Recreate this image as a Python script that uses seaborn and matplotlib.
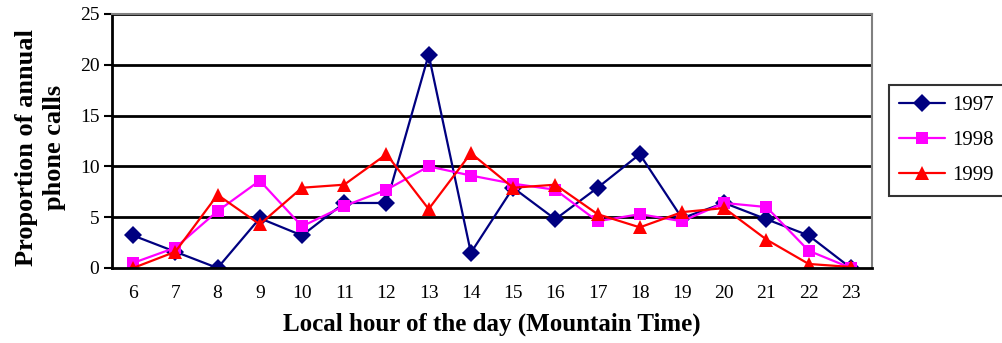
import numpy as np
import pandas as pd
import matplotlib
matplotlib.use("Agg")
import matplotlib.pyplot as plt
import seaborn as sns

hours = [6, 7, 8, 9, 10, 11, 12, 13, 14, 15, 16, 17, 18, 19, 20, 21, 22, 23]
calls_1997 = [3.2, 1.6, 0.0, 4.9, 3.2, 6.4, 6.4, 21.0, 1.5, 7.9, 4.8, 7.9, 11.2, 4.9, 6.4, 4.8, 3.2, 0.0]
calls_1998 = [0.5, 2.0, 5.6, 8.6, 4.1, 6.1, 7.7, 10.0, 9.1, 8.3, 7.7, 4.6, 5.3, 4.6, 6.4, 6.0, 1.7, 0.0]
calls_1999 = [0.0, 1.6, 7.2, 4.3, 7.9, 8.2, 11.2, 5.8, 11.3, 7.9, 8.2, 5.3, 4.0, 5.5, 5.9, 2.8, 0.4, 0.1]
years = ["1997", "1998", "1999"]
y_ticks = [0, 5, 10, 15, 20, 25]

frames = []
for year, vals in zip(years, [calls_1997, calls_1998, calls_1999]):
    frames.append(pd.DataFrame({"pos": np.arange(len(hours)), "hour": hours,
                                "share": vals, "year": year}))
df = pd.concat(frames, ignore_index=True)

sns.set_style("white")
plt.rcParams["font.family"] = ["Liberation Serif", "DejaVu Serif"]
plt.rcParams["text.color"] = "black"
plt.rcParams["axes.labelcolor"] = "black"
plt.rcParams["xtick.color"] = "black"
plt.rcParams["ytick.color"] = "black"

fig = plt.figure(figsize=(10.02, 3.43), dpi=100)
ax = fig.add_axes([112 / 1002, 1 - 268 / 343, 760 / 1002, 254 / 343])

palette = {"1997": "#000080", "1998": "#FF00FF", "1999": "#FF0000"}
markers = {"1997": "D", "1998": "s", "1999": "^"}
sns.lineplot(data=df, x="pos", y="share", hue="year", style="year",
             palette=palette, markers=markers, dashes=False,
             markersize=9, linewidth=1.6, markeredgewidth=0,
             ax=ax, legend=True)

# Triangles read a little larger than the other markers
for line in ax.get_lines():
    if line.get_marker() == "^":
        line.set_markersize(10.5)

# Horizontal gridlines
for t in y_ticks[1:]:
    ax.axhline(t, color="black", linewidth=2.0, zorder=0)

ax.set_xlim(-0.5, len(hours) - 0.5)
ax.set_ylim(0, 25)
ax.set_yticks(y_ticks)
ax.set_yticklabels([str(t) for t in y_ticks], fontsize=14)

# Category labels centred, tick marks between categories
ax.set_xticks(np.arange(len(hours)))
ax.set_xticklabels([str(h) for h in hours], fontsize=14)
ax.tick_params(axis="x", length=0, pad=12)
ax.set_xticks(np.arange(-0.5, len(hours)), minor=True)
ax.tick_params(axis="x", which="minor", length=6, width=1.5, color="black",
               direction="out")
ax.tick_params(axis="y", length=6, width=1.5, color="black", direction="out",
               left=True, pad=3)

for side in ["left", "bottom"]:
    ax.spines[side].set_color("black")
    ax.spines[side].set_linewidth(2.0)
for side in ["top", "right"]:
    ax.spines[side].set_visible(True)
    ax.spines[side].set_color("#808080")
    ax.spines[side].set_linewidth(1.5)

ax.set_xlabel("Local hour of the day (Mountain Time)", fontsize=18,
              fontweight="bold", labelpad=8)
ax.set_ylabel("Proportion of annual\nphone calls", fontsize=19,
              fontweight="bold", linespacing=1.3)
ax.yaxis.set_label_coords(-0.0605, 0.476)

handles, labels = ax.get_legend_handles_labels()
ax.legend_.remove()
leg = fig.legend(handles, labels, loc="upper left",
                 bbox_to_anchor=(889 / 1002, 1 - 85 / 343),
                 borderaxespad=0, fontsize=15, frameon=True, fancybox=False,
                 edgecolor="black", handlelength=2.2, labelspacing=0.75,
                 borderpad=0.5, handletextpad=0.35)
leg.get_frame().set_linewidth(1.5)

fig.savefig("out.png", dpi=100)
